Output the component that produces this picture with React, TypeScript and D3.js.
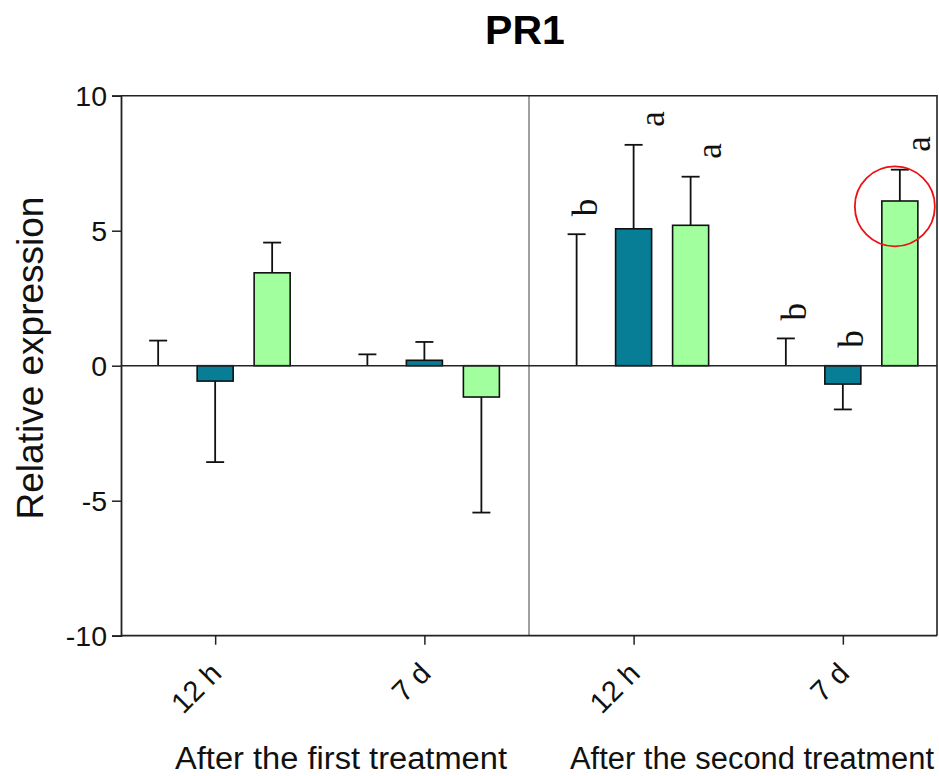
import React, { useEffect, useRef } from "react";
import * as d3 from "d3";

// groups along the x axis (two treatments x two time points)
const groups = ["first-12h", "first-7d", "second-12h", "second-7d"];
const tickLabels = ["12 h", "7 d", "12 h", "7 d"];
const treatmentLabels = ["After the first treatment", "After the second treatment"];
const series = ["control", "treatA", "treatB"];
const seriesColors = ["#ffffff", "#077d96", "#a1ff9d"];

// means and SD per group
const controlMean = [0, 0, 0, 0];
const controlErr = [0.93, 0.42, 4.87, 1.01];
const treatAMean = [-0.57, 0.2, 5.07, -0.68];
const treatAErr = [3.0, 0.68, 3.11, 0.94];
const treatBMean = [3.44, -1.16, 5.2, 6.1];
const treatBErr = [1.12, 4.28, 1.8, 1.16];

// significance letters (per group, per series)
const letters = [
  ["", "", ""],
  ["", "", ""],
  ["b", "a", "a"],
  ["b", "b", "a"],
];

const yTicks = [-10, -5, 0, 5, 10];
const highlight = { group: "second-7d", series: "treatB", value: 5.9 };

const W = 939, H = 776;
const left = 121, right = 937, top = 95.7, bottom = 635.7;

type Row = { group: string; gi: number; key: string; si: number; mean: number; err: number; letter: string };

export default function App() {
  const ref = useRef<SVGSVGElement | null>(null);

  useEffect(() => {
    const el = ref.current;
    if (!el) return;
    const svg = d3.select(el);
    svg.selectAll("*").remove();

    const means = [controlMean, treatAMean, treatBMean];
    const errs = [controlErr, treatAErr, treatBErr];
    const rows: Row[] = [];
    groups.forEach((g, gi) => {
      series.forEach((s, si) => {
        rows.push({ group: g, gi, key: s, si, mean: means[si][gi], err: errs[si][gi], letter: letters[gi][si] });
      });
    });

    const x = d3.scalePoint<string>().domain(groups).range([left, right]).padding(0.45);
    const inner = d3.scaleBand<string>().domain(series)
      .range([-85.5, 85.5]).paddingInner(0.368).paddingOuter(0.184);
    const y = d3.scaleLinear().domain([-10, 10]).range([bottom, top]);
    const bx = (r: Row) => (x(r.group) as number) + (inner(r.key) as number) + inner.bandwidth() / 2;

    const sans = "'Liberation Sans', Arial, sans-serif";

    // title
    svg.append("text")
      .attr("x", 525).attr("y", 44)
      .attr("text-anchor", "middle")
      .attr("font-family", sans).attr("font-weight", "bold").attr("font-size", 41)
      .text("PR1");

    // divider between treatments
    const divX = ((x(groups[1]) as number) + (x(groups[2]) as number)) / 2;
    svg.append("line")
      .attr("x1", divX).attr("x2", divX).attr("y1", top).attr("y2", bottom)
      .attr("stroke", "#808080").attr("stroke-width", 1.5);

    // bars
    svg.append("g").selectAll("rect").data(rows).join("rect")
      .attr("x", d => bx(d) - inner.bandwidth() / 2)
      .attr("width", inner.bandwidth())
      .attr("y", d => y(Math.max(0, d.mean)))
      .attr("height", d => Math.abs(y(d.mean) - y(0)))
      .attr("fill", d => seriesColors[d.si])
      .attr("stroke", "#111").attr("stroke-width", 1.6);

    // error bars (one-sided, away from zero)
    const tip = (d: Row) => (d.mean >= 0 ? d.mean + d.err : d.mean - d.err);
    const eb = svg.append("g").attr("stroke", "#111").attr("stroke-width", 1.8);
    eb.selectAll("line.v").data(rows).join("line").attr("class", "v")
      .attr("x1", bx).attr("x2", bx)
      .attr("y1", d => y(d.mean)).attr("y2", d => y(tip(d)));
    eb.selectAll("line.c").data(rows).join("line").attr("class", "c")
      .attr("x1", d => bx(d) - 9).attr("x2", d => bx(d) + 9)
      .attr("y1", d => y(tip(d))).attr("y2", d => y(tip(d)));

    // zero line
    svg.append("line")
      .attr("x1", left).attr("x2", right).attr("y1", y(0)).attr("y2", y(0))
      .attr("stroke", "#222").attr("stroke-width", 1.6);

    // frame: top and right
    svg.append("path")
      .attr("d", `M${left},${top}H${right}V${bottom}`)
      .attr("fill", "none").attr("stroke", "#222").attr("stroke-width", 1.6);

    // y axis
    const yAxis = svg.append("g").attr("transform", `translate(${left},0)`)
      .call(d3.axisLeft(y).tickValues(yTicks).tickSize(9).tickPadding(5).tickFormat(d => String(d)));
    yAxis.select(".domain").attr("stroke", "#222").attr("stroke-width", 1.8);
    yAxis.selectAll(".tick line").attr("stroke", "#222").attr("stroke-width", 1.5);
    yAxis.selectAll(".tick text")
      .attr("font-family", sans).attr("font-size", 28.5).attr("fill", "#111")
      .attr("dy", "0.35em").attr("x", -14);

    // x axis
    const xAxis = svg.append("g").attr("transform", `translate(0,${bottom})`)
      .call(d3.axisBottom(x).tickSize(9).tickFormat(() => ""));
    xAxis.select(".domain").attr("stroke", "#222").attr("stroke-width", 1.8).attr("d", `M${left},0H${right}`);
    xAxis.selectAll(".tick line").attr("stroke", "#222").attr("stroke-width", 1.5);

    svg.append("g").selectAll("text").data(groups).join("text")
      .attr("transform", (g) => `translate(${(x(g) as number) + 1},668) rotate(-45)`)
      .attr("text-anchor", "end")
      .attr("dominant-baseline", "central")
      .attr("font-family", sans).attr("font-size", 29).attr("fill", "#111")
      .text((_, i) => tickLabels[i]);

    // treatment labels
    const treatWidth = [332, 364];
    svg.append("g").selectAll("text").data(treatmentLabels).join("text")
      .attr("x", (_, i) => [341, 752][i] - treatWidth[i] / 2)
      .attr("y", 769)
      .attr("textLength", (_, i) => treatWidth[i])
      .attr("lengthAdjust", "spacingAndGlyphs")
      .attr("font-family", sans).attr("font-size", 31).attr("fill", "#111")
      .text(d => d);

    // y label
    svg.append("text")
      .attr("transform", "translate(43,358) rotate(-90)")
      .attr("text-anchor", "middle")
      .attr("font-family", sans).attr("font-size", 37).attr("fill", "#111")
      .text("Relative expression");

    // significance letters
    const letterShift: Record<string, number> = { a: 30, b: 20 };
    svg.append("g").selectAll("text").data(rows.filter(r => r.letter)).join("text")
      .attr("transform", d => {
        const base = y(Math.max(0, tip(d)));
        return `translate(${bx(d) + letterShift[d.letter]},${base - 18}) rotate(-90)`;
      })
      .attr("text-anchor", "start")
      .attr("font-family", "'Liberation Serif', 'DejaVu Serif', serif")
      .attr("font-size", 35).attr("fill", "#111")
      .text(d => d.letter);

    // red highlight circle
    const hr = rows.find(r => r.group === highlight.group && r.key === highlight.series)!;
    svg.append("circle")
      .attr("cx", bx(hr) - 5).attr("cy", y(highlight.value)).attr("r", 40)
      .attr("fill", "none").attr("stroke", "#ee1111").attr("stroke-width", 1.8);
  }, []);

  return (
    <svg
      ref={ref}
      width={W}
      height={H}
      style={{ position: "absolute", left: 0, top: 0, background: "#fff" }}
    />
  );
}
